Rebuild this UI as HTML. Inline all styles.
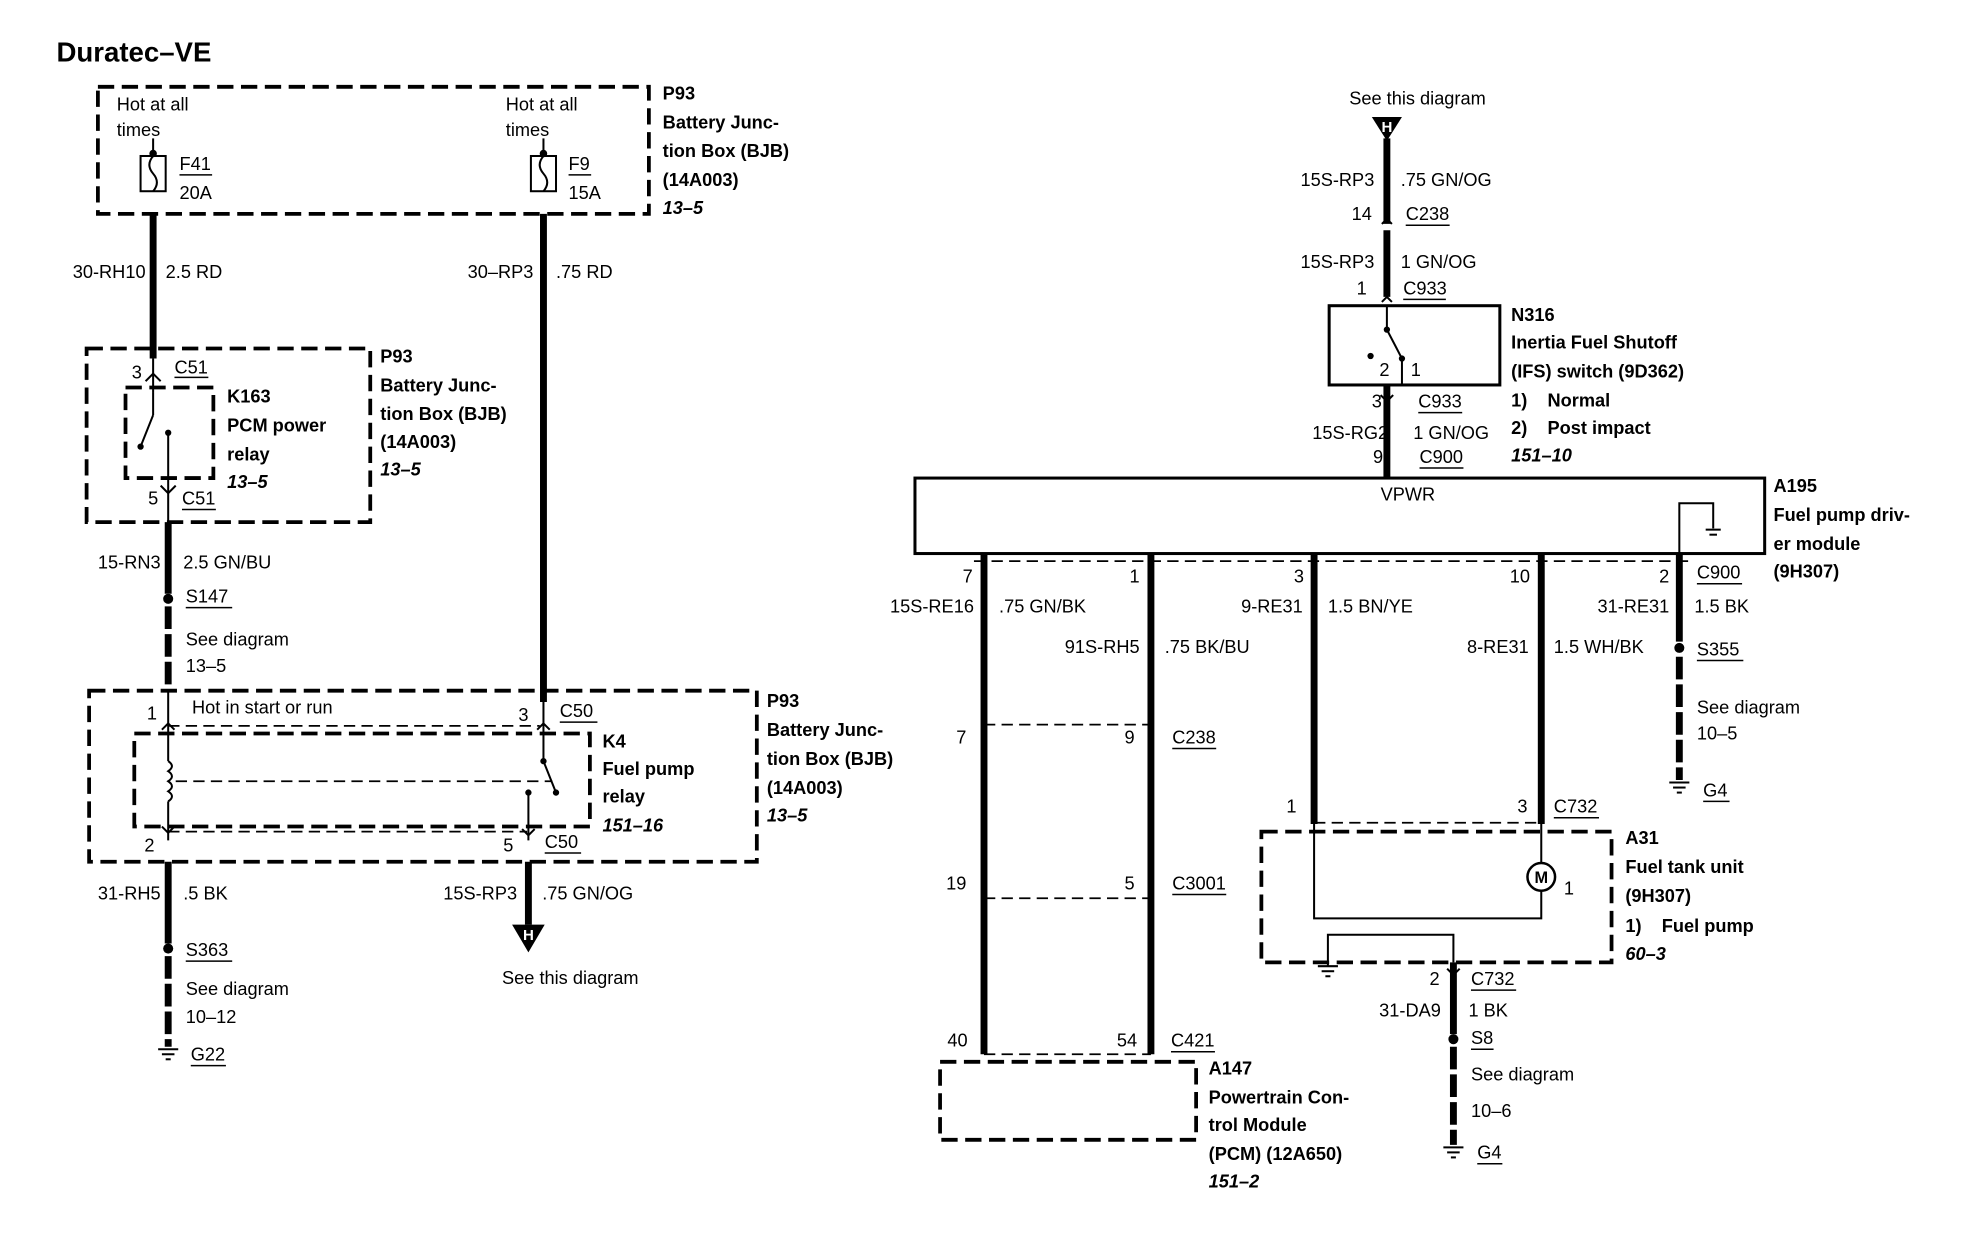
<!DOCTYPE html>
<html><head><meta charset="utf-8"><style>
html,body{margin:0;padding:0;background:#fff;}
svg{display:block;}
text{font-family:"Liberation Sans",Arial,sans-serif;font-size:14.5px;fill:#000;}
.b{font-weight:bold;}
.i{font-weight:bold;font-style:italic;}
.r{text-anchor:end;}
.c{text-anchor:middle;}
.w{stroke:#000;stroke-width:5.5;fill:none;}
.t{stroke:#000;stroke-width:1.6;fill:none;}
.d{stroke:#000;stroke-width:3;fill:none;stroke-dasharray:13,6;}
.dt{stroke:#000;stroke-width:1.4;fill:none;stroke-dasharray:9,5;}
.u{stroke:#000;stroke-width:1.2;}
</style></head><body>
<svg width="1968" height="1248" viewBox="0 0 1568 992" preserveAspectRatio="none" xmlns="http://www.w3.org/2000/svg">
<rect width="1570" height="995" fill="#fff"/>
<text x="45" y="49" class="b" style="font-size:22px">Duratec–VE</text>

<rect x="78" y="69" width="439" height="101" class="d"/>
<text x="93" y="88">Hot at all</text><text x="93" y="108">times</text>
<text x="403" y="88">Hot at all</text><text x="403" y="108">times</text>
<line x1="122" y1="110" x2="122" y2="122" class="t"/><circle cx="122" cy="122" r="3" fill="#000"/>
<rect x="112" y="124" width="20" height="28" class="t"/><path d="M122 124 q-6 7 0 14 q6 7 0 14" class="t"/>
<line x1="433" y1="110" x2="433" y2="122" class="t"/><circle cx="433" cy="122" r="3" fill="#000"/>
<rect x="423" y="124" width="20" height="28" class="t"/><path d="M433 124 q-6 7 0 14 q6 7 0 14" class="t"/>
<text x="143" y="135">F41</text><line x1="143" y1="139" x2="169" y2="139" class="u"/><text x="143" y="158">20A</text>
<text x="453" y="135">F9</text><line x1="453" y1="139" x2="471" y2="139" class="u"/><text x="453" y="158">15A</text>
<text x="528" y="79" class="b">P93</text><text x="528" y="102" class="b">Battery Junc-</text><text x="528" y="125" class="b">tion Box (BJB)</text><text x="528" y="148" class="b">(14A003)</text><text x="528" y="170" class="i">13–5</text>

<line x1="122" y1="170" x2="122" y2="285" class="w"/>
<line x1="433" y1="170" x2="433" y2="558" class="w"/>
<text x="116" y="221" class="r">30-RH10</text><text x="132" y="221">2.5 RD</text>
<text x="425" y="221" class="r">30–RP3</text><text x="443" y="221">.75 RD</text>

<rect x="69" y="277" width="226" height="138" class="d"/>
<rect x="100" y="308" width="70" height="72" class="d"/>
<line x1="122" y1="285" x2="122" y2="312" class="t"/><path d="M116 303 l6 -6 l6 6" class="t"/>
<line x1="122" y1="312" x2="122" y2="330" class="t"/><line x1="122" y1="330" x2="112" y2="355" class="t"/><circle cx="112" cy="355" r="2.5" fill="#000"/>
<circle cx="134" cy="344" r="2.5" fill="#000"/><line x1="134" y1="344" x2="134" y2="420" class="t"/><path d="M128 386 l6 6 l6 -6" class="t"/>
<text x="105" y="301">3</text><text x="139" y="297">C51</text><line x1="139" y1="300" x2="166" y2="300" class="u"/>
<text x="118" y="401">5</text><text x="145" y="401">C51</text><line x1="145" y1="405" x2="172" y2="405" class="u"/>
<text x="181" y="320" class="b">K163</text><text x="181" y="343" class="b">PCM power</text><text x="181" y="366" class="b">relay</text><text x="181" y="388" class="i">13–5</text>
<text x="303" y="288" class="b">P93</text><text x="303" y="311" class="b">Battery Junc-</text><text x="303" y="334" class="b">tion Box (BJB)</text><text x="303" y="356" class="b">(14A003)</text><text x="303" y="378" class="i">13–5</text>

<line x1="134" y1="415" x2="134" y2="472" class="w"/><circle cx="134" cy="476" r="4" fill="#000"/>
<line x1="134" y1="482" x2="134" y2="549" class="w" stroke-dasharray="18,4"/>
<text x="128" y="452" class="r">15-RN3</text><text x="146" y="452">2.5 GN/BU</text>
<text x="148" y="479">S147</text><line x1="148" y1="483" x2="185" y2="483" class="u"/>
<text x="148" y="513">See diagram</text><text x="148" y="534">13–5</text>

<rect x="71" y="549" width="532" height="136" class="d"/>
<rect x="107" y="583" width="363" height="74" class="d"/>
<line x1="134" y1="577" x2="430" y2="577" class="dt"/>
<line x1="134" y1="661" x2="420" y2="661" class="dt"/>
<line x1="140" y1="621" x2="440" y2="621" class="dt"/>
<text x="153" y="567">Hot in start or run</text>
<line x1="134" y1="549" x2="134" y2="605" class="t"/><path d="M129 580 l5 -5 l5 5" class="t"/>
<path d="M134 605 q6 4 0 8 q6 4 0 8 q6 4 0 8 q6 4 0 8" class="t"/>
<line x1="134" y1="637" x2="134" y2="668" class="t"/><path d="M129 657 l5 5 l5 -5" class="t"/>
<line x1="433" y1="558" x2="433" y2="605" class="t"/><path d="M428 580 l5 -5 l5 5" class="t"/>
<circle cx="433" cy="605" r="2.5" fill="#000"/><line x1="433" y1="605" x2="443" y2="630" class="t"/><circle cx="443" cy="630" r="2.5" fill="#000"/>
<circle cx="421" cy="630" r="2.5" fill="#000"/><line x1="421" y1="630" x2="421" y2="668" class="t"/><path d="M416 659 l5 5 l5 -5" class="t"/>
<text x="117" y="572">1</text><text x="413" y="573">3</text><text x="446" y="570">C50</text><line x1="446" y1="574" x2="476" y2="574" class="u"/>
<text x="115" y="677">2</text><text x="401" y="677">5</text><text x="434" y="674">C50</text><line x1="434" y1="678" x2="463" y2="678" class="u"/>
<text x="480" y="594" class="b">K4</text><text x="480" y="616" class="b">Fuel pump</text><text x="480" y="638" class="b">relay</text><text x="480" y="661" class="i">151–16</text>
<text x="611" y="562" class="b">P93</text><text x="611" y="585" class="b">Battery Junc-</text><text x="611" y="608" class="b">tion Box (BJB)</text><text x="611" y="631" class="b">(14A003)</text><text x="611" y="653" class="i">13–5</text>

<line x1="134" y1="685" x2="134" y2="750" class="w"/><circle cx="134" cy="754" r="4" fill="#000"/>
<line x1="134" y1="760" x2="134" y2="832" class="w" stroke-dasharray="18,4"/>
<line x1="126" y1="834" x2="142" y2="834" class="t"/><line x1="129" y1="838" x2="139" y2="838" class="t"/><line x1="132" y1="842" x2="136" y2="842" class="t"/>
<text x="128" y="715" class="r">31-RH5</text><text x="146" y="715">.5 BK</text>
<text x="148" y="760">S363</text><line x1="148" y1="764" x2="185" y2="764" class="u"/>
<text x="148" y="791">See diagram</text><text x="148" y="813">10–12</text>
<text x="152" y="843">G22</text><line x1="152" y1="847" x2="180" y2="847" class="u"/>

<line x1="421" y1="685" x2="421" y2="735" class="w"/>
<polygon points="408,735 434,735 421,757" fill="#000"/><text x="421" y="747" class="c b" style="fill:#fff;font-size:12px">H</text>
<text x="412" y="715" class="r">15S-RP3</text><text x="432" y="715">.75 GN/OG</text>
<text x="400" y="782">See this diagram</text>

<text x="1075" y="83">See this diagram</text>
<polygon points="1093,93 1117,93 1105,112" fill="#000"/><text x="1105" y="105" class="c b" style="fill:#fff;font-size:12px">H</text>
<line x1="1105" y1="110" x2="1105" y2="178" class="w"/>
<line x1="1105" y1="183" x2="1105" y2="236" class="w"/>
<path d="M1101 178 l4 -4 l4 4 M1101 240 l4 -4 l4 4" class="t"/>
<text x="1095" y="148" class="r">15S-RP3</text><text x="1116" y="148">.75 GN/OG</text>
<text x="1093" y="175" class="r">14</text><text x="1120" y="175">C238</text><line x1="1120" y1="179" x2="1155" y2="179" class="u"/>
<text x="1095" y="213" class="r">15S-RP3</text><text x="1116" y="213">1 GN/OG</text>
<text x="1089" y="234" class="r">1</text><text x="1118" y="234">C933</text><line x1="1118" y1="238" x2="1152" y2="238" class="u"/>
<rect x="1059" y="243" width="136" height="63" stroke="#000" stroke-width="2.4" fill="none"/>
<line x1="1105" y1="243" x2="1105" y2="262" class="t"/><circle cx="1105" cy="262" r="2.5" fill="#000"/>
<line x1="1105" y1="262" x2="1117" y2="285" class="t"/><circle cx="1117" cy="285" r="2.5" fill="#000"/>
<line x1="1117" y1="285" x2="1117" y2="306" class="t"/>
<circle cx="1092" cy="283" r="2.5" fill="#000"/><text x="1099" y="299">2</text><text x="1124" y="299">1</text>
<text x="1204" y="255" class="b">N316</text><text x="1204" y="277" class="b">Inertia Fuel Shutoff</text><text x="1204" y="300" class="b">(IFS) switch (9D362)</text><text x="1204" y="323" class="b">1)&#160;&#160;&#160; Normal</text><text x="1204" y="345" class="b">2)&#160;&#160;&#160; Post impact</text><text x="1204" y="367" class="i">151–10</text>
<line x1="1105" y1="306" x2="1105" y2="380" class="w"/>
<path d="M1100 314 l5 5 l5 -5" class="t"/>
<text x="1101" y="324" class="r">3</text><text x="1130" y="324">C933</text><line x1="1130" y1="328" x2="1165" y2="328" class="u"/>
<text x="1106" y="349" class="r">15S-RG2</text><text x="1126" y="349">1 GN/OG</text>
<text x="1102" y="368" class="r">9</text><text x="1131" y="368">C900</text><line x1="1131" y1="372" x2="1166" y2="372" class="u"/>

<rect x="729" y="380" width="677" height="60" stroke="#000" stroke-width="2.4" fill="none"/>
<text x="1100" y="398">VPWR</text>
<path d="M1338 440 V400 H1365 V420" class="t"/><line x1="1359" y1="421" x2="1371" y2="421" class="t"/><line x1="1362" y1="425" x2="1368" y2="425" class="t"/>
<text x="1413" y="391" class="b">A195</text><text x="1413" y="414" class="b">Fuel pump driv-</text><text x="1413" y="437" class="b">er module</text><text x="1413" y="459" class="b">(9H307)</text>
<line x1="776" y1="446" x2="1345" y2="446" class="dt"/>

<line x1="784" y1="440" x2="784" y2="838" class="w"/>
<line x1="917" y1="440" x2="917" y2="838" class="w"/>
<line x1="1047" y1="440" x2="1047" y2="655" class="w"/>
<line x1="1228" y1="440" x2="1228" y2="655" class="w"/>
<line x1="1338" y1="440" x2="1338" y2="510" class="w"/><circle cx="1338" cy="515" r="4" fill="#000"/>
<line x1="1338" y1="522" x2="1338" y2="620" class="w" stroke-dasharray="18,4"/>
<line x1="1330" y1="622" x2="1346" y2="622" class="t"/><line x1="1333" y1="626" x2="1343" y2="626" class="t"/><line x1="1336" y1="630" x2="1340" y2="630" class="t"/>

<text x="775" y="463" class="r">7</text><text x="908" y="463" class="r">1</text><text x="1039" y="463" class="r">3</text><text x="1219" y="463" class="r">10</text><text x="1330" y="463" class="r">2</text>
<text x="1352" y="460">C900</text><line x1="1352" y1="464" x2="1388" y2="464" class="u"/>
<text x="776" y="487" class="r">15S-RE16</text><text x="796" y="487">.75 GN/BK</text>
<text x="1038" y="487" class="r">9-RE31</text><text x="1058" y="487">1.5 BN/YE</text>
<text x="1330" y="487" class="r">31-RE31</text><text x="1350" y="487">1.5 BK</text>
<text x="908" y="519" class="r">91S-RH5</text><text x="928" y="519">.75 BK/BU</text>
<text x="1218" y="519" class="r">8-RE31</text><text x="1238" y="519">1.5 WH/BK</text>
<text x="1352" y="521">S355</text><line x1="1352" y1="525" x2="1389" y2="525" class="u"/>
<text x="1352" y="567">See diagram</text><text x="1352" y="588">10–5</text>
<text x="1357" y="633">G4</text><line x1="1357" y1="637" x2="1378" y2="637" class="u"/>

<line x1="784" y1="576" x2="917" y2="576" class="dt"/><line x1="784" y1="714" x2="917" y2="714" class="dt"/><line x1="784" y1="838" x2="917" y2="838" class="dt"/>
<text x="770" y="591" class="r">7</text><text x="904" y="591" class="r">9</text><text x="934" y="591">C238</text><line x1="934" y1="595" x2="969" y2="595" class="u"/>
<text x="770" y="707" class="r">19</text><text x="904" y="707" class="r">5</text><text x="934" y="707">C3001</text><line x1="934" y1="711" x2="977" y2="711" class="u"/>
<text x="771" y="832" class="r">40</text><text x="906" y="832" class="r">54</text><text x="933" y="832">C421</text><line x1="933" y1="836" x2="968" y2="836" class="u"/>
<rect x="749" y="844" width="204" height="62" class="d"/>
<text x="963" y="854" class="b">A147</text><text x="963" y="877" class="b">Powertrain Con-</text><text x="963" y="899" class="b">trol Module</text><text x="963" y="922" class="b">(PCM) (12A650)</text><text x="963" y="944" class="i">151–2</text>

<line x1="1047" y1="654" x2="1228" y2="654" class="dt"/>
<rect x="1005" y="661" width="279" height="104" class="d"/>
<text x="1033" y="646" class="r">1</text><text x="1217" y="646" class="r">3</text><text x="1238" y="646">C732</text><line x1="1238" y1="650" x2="1274" y2="650" class="u"/>
<path d="M1047 655 V730 H1228 V708 M1228 655 V686" class="t"/>
<circle cx="1228" cy="697" r="11" stroke="#000" stroke-width="2" fill="#fff"/><text x="1228" y="702" class="c b" style="font-size:13px">M</text>
<text x="1246" y="711">1</text>
<path d="M1058 768 V743 H1158 V765" class="t"/>
<line x1="1050" y1="768" x2="1066" y2="768" class="t"/><line x1="1053" y1="772" x2="1063" y2="772" class="t"/><line x1="1056" y1="776" x2="1060" y2="776" class="t"/>
<path d="M1153 770 l5 5 l5 -5" class="t"/>
<line x1="1158" y1="765" x2="1158" y2="822" class="w"/><circle cx="1158" cy="826" r="4" fill="#000"/>
<line x1="1158" y1="832" x2="1158" y2="910" class="w" stroke-dasharray="18,4"/>
<line x1="1150" y1="912" x2="1166" y2="912" class="t"/><line x1="1153" y1="916" x2="1163" y2="916" class="t"/><line x1="1156" y1="920" x2="1160" y2="920" class="t"/>
<text x="1295" y="671" class="b">A31</text><text x="1295" y="694" class="b">Fuel tank unit</text><text x="1295" y="717" class="b">(9H307)</text><text x="1295" y="741" class="b">1)&#160;&#160;&#160; Fuel pump</text><text x="1295" y="763" class="i">60–3</text>
<text x="1147" y="783" class="r">2</text><text x="1172" y="783">C732</text><line x1="1172" y1="787" x2="1208" y2="787" class="u"/>
<text x="1148" y="808" class="r">31-DA9</text><text x="1170" y="808">1 BK</text>
<text x="1172" y="830">S8</text><line x1="1172" y1="834" x2="1190" y2="834" class="u"/>
<text x="1172" y="859">See diagram</text><text x="1172" y="888">10–6</text>
<text x="1177" y="921">G4</text><line x1="1177" y1="925" x2="1197" y2="925" class="u"/>
</svg>
</body></html>
